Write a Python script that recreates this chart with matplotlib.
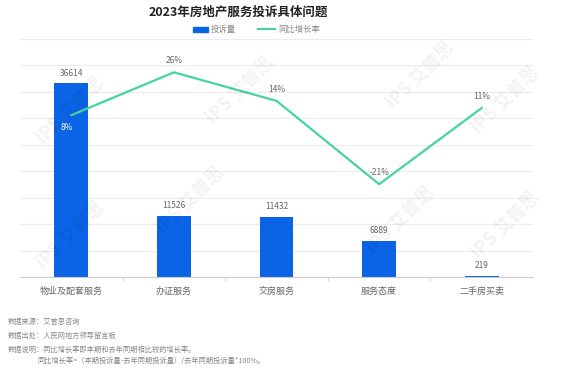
import matplotlib
matplotlib.use("Agg")
import matplotlib.pyplot as plt

plt.rcParams['font.family'] = ['Noto Sans CJK SC', 'DejaVu Sans']

categories = ["物业及配套服务", "办证服务", "交房服务", "服务态度", "二手房买卖"]
complaints = [36614, 11526, 11432, 6889, 219]
growth = [8, 26, 14, -21, 11]  # %

BLUE = "#0B63E5"
GREEN = "#45D3A3"
GRAY = "#666666"

fig = plt.figure(figsize=(5.63, 3.75), dpi=100)
ax = fig.add_axes([20 / 563, 1 - 277 / 375, 513 / 563, 238 / 375])
x = list(range(len(categories)))

ax.bar(x, complaints, width=0.33, color=BLUE, zorder=2)
ax.set_xlim(-0.5, 4.5)
ax.set_ylim(0, 45000)
ax.set_yticks(range(0, 45001, 5000))
ax.yaxis.grid(True, color="#ececec", linewidth=0.8, zorder=0)
ax.set_xticks(x)
ax.set_xticklabels(categories, fontsize=6.5, color=GRAY)
ax.set_xticks([i + 0.5 for i in x[:-1]], minor=True)
ax.tick_params(axis="x", which="major", length=0, pad=7)
ax.tick_params(axis="x", which="minor", length=3, color="#cccccc")
for s in ["top", "right", "left"]:
    ax.spines[s].set_visible(False)
ax.spines["bottom"].set_color("#cccccc")

for xi, v in zip(x, complaints):
    ax.annotate(str(v), (xi, v), xytext=(0, 4), textcoords="offset points",
                ha="center", va="bottom", fontsize=6, color=GRAY)

ax2 = ax.twinx()
ax2.plot(x, growth, color=GREEN, linewidth=1.6, zorder=3)
ax2.set_ylim(-60, 40)
ax2.axis("off")
# twinx turns the left ticks back on, so hide them here
ax.tick_params(axis="y", which="both", left=False, right=False, labelleft=False)
for xi, g in zip(x, growth):
    if xi == 0:
        ax2.annotate(f"{g}%", (xi, g), xytext=(-3, -6), textcoords="offset points",
                     ha="center", va="top", fontsize=6, color="white")
    else:
        ax2.annotate(f"{g}%", (xi, g), xytext=(0, 5), textcoords="offset points",
                     ha="center", va="bottom", fontsize=6, color=GRAY)

# title and legend
fig.text(238 / 563, 1 - 12 / 375, "2023年房地产服务投诉具体问题", ha="center", va="center",
         fontsize=9, fontweight="bold", color="#222222")
fig.patches.append(plt.Rectangle((193 / 563, 1 - 31.5 / 375), 15 / 563, 5 / 375,
                                 transform=fig.transFigure, color=BLUE))
fig.text(211 / 563, 1 - 29 / 375, "投诉量", va="center", fontsize=6, color="#888888")
fig.add_artist(plt.Line2D([258 / 563, 275 / 563], [1 - 29 / 375] * 2,
                          transform=fig.transFigure, color=GREEN, linewidth=1.5))
fig.text(278 / 563, 1 - 29 / 375, "同比增长率", va="center", fontsize=6, color="#888888")

# watermarks
for wx, wy in [(70, 110), (190, 200), (240, 90), (400, 220), (420, 75), (505, 100), (505, 225), (70, 235)]:
    fig.text(wx / 563, 1 - wy / 375, "iPS 艾普思", rotation=45, ha="center", va="center",
             fontsize=13, fontweight="bold", color="#000000", alpha=0.05)

# footer notes
notes = [
    (8, 322, "数据来源：艾普思咨询"),
    (8, 336, "数据出处：人民网地方领导留言板"),
    (8, 350, "数据说明：同比增长率即本期和去年同期相比较的增长率。"),
    (37, 361, "同比增长率=（本期投诉量-去年同期投诉量）/去年同期投诉量*100%。"),
]
for nx, ny, t in notes:
    fig.text(nx / 563, 1 - ny / 375, t, va="center", fontsize=5.2, color="#888888")

fig.savefig("out.png", dpi=100)
